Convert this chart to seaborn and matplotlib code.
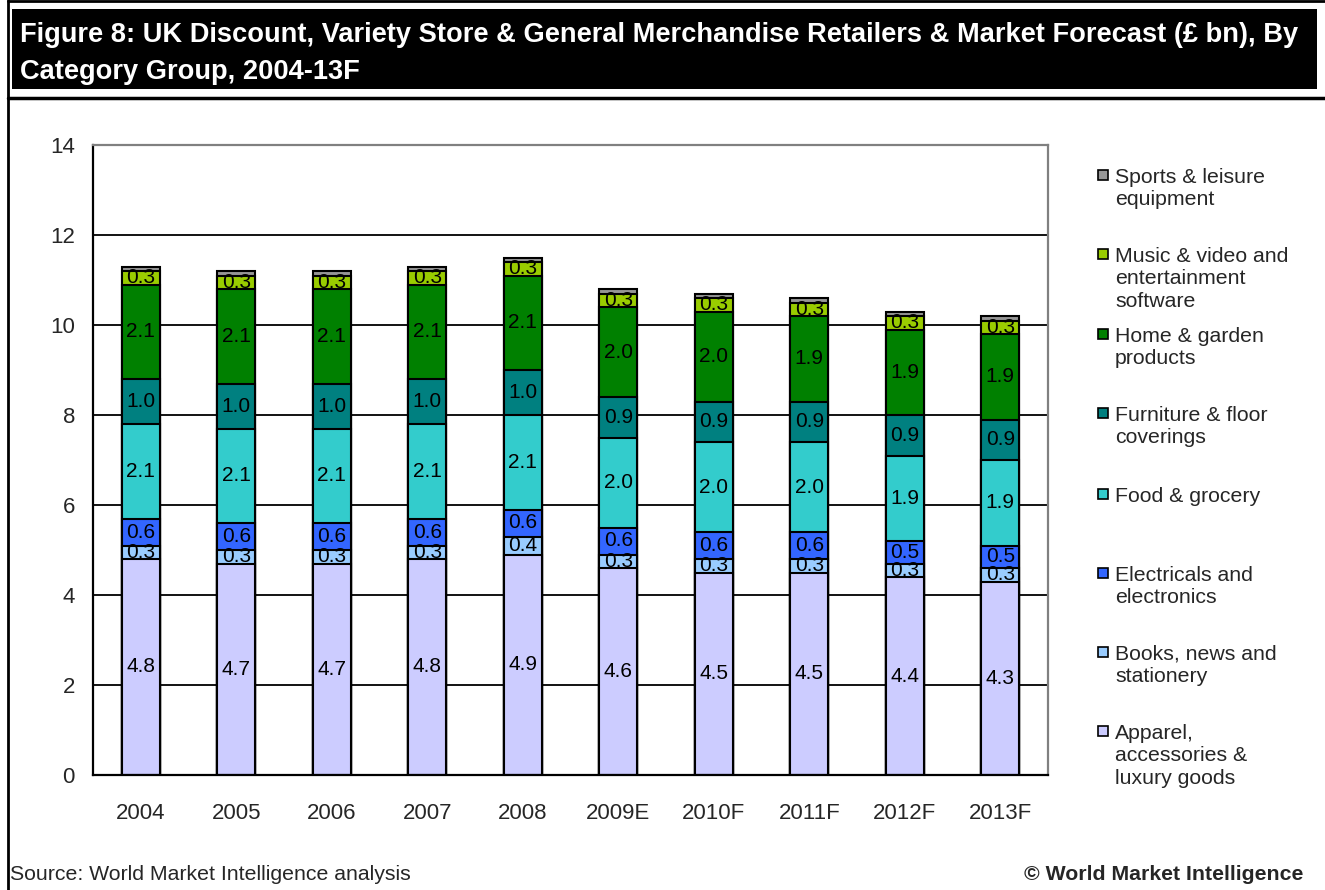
import numpy as np
import matplotlib
matplotlib.use("Agg")
import matplotlib.pyplot as plt
from matplotlib.patches import Rectangle
from matplotlib.lines import Line2D
import seaborn as sns
import pandas as pd

years = ["2004", "2005", "2006", "2007", "2008", "2009E", "2010F", "2011F", "2012F", "2013F"]

apparel = [4.8, 4.7, 4.7, 4.8, 4.9, 4.6, 4.5, 4.5, 4.4, 4.3]
books = [0.3, 0.3, 0.3, 0.3, 0.4, 0.3, 0.3, 0.3, 0.3, 0.3]
electricals = [0.6, 0.6, 0.6, 0.6, 0.6, 0.6, 0.6, 0.6, 0.5, 0.5]
food = [2.1, 2.1, 2.1, 2.1, 2.1, 2.0, 2.0, 2.0, 1.9, 1.9]
furniture = [1.0, 1.0, 1.0, 1.0, 1.0, 0.9, 0.9, 0.9, 0.9, 0.9]
home = [2.1, 2.1, 2.1, 2.1, 2.1, 2.0, 2.0, 1.9, 1.9, 1.9]
music = [0.3, 0.3, 0.3, 0.3, 0.3, 0.3, 0.3, 0.3, 0.3, 0.3]
sports = [0.1, 0.1, 0.1, 0.1, 0.1, 0.1, 0.1, 0.1, 0.1, 0.1]

series_names = [
    "Apparel,\naccessories &\nluxury goods",
    "Books, news and\nstationery",
    "Electricals and\nelectronics",
    "Food & grocery",
    "Furniture & floor\ncoverings",
    "Home & garden\nproducts",
    "Music & video and\nentertainment\nsoftware",
    "Sports & leisure\nequipment",
]
series_values = [apparel, books, electricals, food, furniture, home, music, sports]
series_colors = ["#CCCCFF", "#99CCFF", "#3366FF", "#33CCCC", "#008080", "#008000", "#99CC00", "#969696"]
show_label = [True, True, True, True, True, True, True, False]

sns.set_style("white")
plt.rcParams["font.family"] = ["Liberation Sans", "DejaVu Sans"]

W, H = 1325, 890
fig = plt.figure(figsize=(W / 100, H / 100), dpi=100)


def fx(px):
    return px / W


def fy(py):
    return 1 - py / H


ax = fig.add_axes([fx(93), fy(775), fx(1048) - fx(93), fy(145) - fy(775)])

vals = np.array(series_values)
cum = np.cumsum(vals, axis=0)

# Stack by drawing cumulative totals from the top layer down
for i in range(len(series_names) - 1, -1, -1):
    df = pd.DataFrame({"year": years, "value": cum[i]})
    sns.barplot(data=df, x="year", y="value", order=years, color=series_colors[i],
                saturation=1, width=0.4, edgecolor="black", linewidth=1.5,
                ax=ax, zorder=3)

# Segment value labels
for i in range(len(series_names)):
    if not show_label[i]:
        continue
    for j in range(len(years)):
        base = cum[i][j] - vals[i][j]
        ax.text(j, base + vals[i][j] / 2, f"{vals[i][j]:.1f}", ha="center", va="center",
                fontsize=15, color="black", zorder=5)

ax.set_ylim(0, 14)
ax.set_xlim(-0.5, len(years) - 0.5)
ax.set_yticks(np.arange(0, 15, 2))
ax.set_yticklabels([str(v) for v in range(0, 15, 2)], fontsize=16)
ax.set_xticks(range(len(years)))
ax.set_xticklabels(years, fontsize=16)
ax.set_xticks(np.arange(-0.5, len(years), 1), minor=True)
ax.tick_params(axis="x", which="major", length=0, pad=20)
ax.tick_params(axis="x", which="minor", length=5, width=1.2, color="black", direction="out")
ax.tick_params(axis="y", which="major", length=5, width=1.2, color="black", direction="out", pad=8)
ax.set_xlabel("")
ax.set_ylabel("")
for v in range(2, 14, 2):
    ax.axhline(v, color="black", lw=1.3, zorder=1)
ax.grid(False)
for side in ["left", "bottom"]:
    ax.spines[side].set_color("black")
    ax.spines[side].set_linewidth(1.6)
for side in ["top", "right"]:
    ax.spines[side].set_color("#808080")
    ax.spines[side].set_linewidth(1.6)
for s in ax.spines.values():
    s.set_zorder(6)

# Legend, top entry first
legend_y = [175, 254, 334, 413, 494, 573, 652, 731]
for k, i in enumerate(range(len(series_names) - 1, -1, -1)):
    cy = legend_y[k]
    fig.patches.append(Rectangle((fx(1098), fy(cy + 5)), 10 / W, 10 / H,
                                 transform=fig.transFigure, facecolor=series_colors[i],
                                 edgecolor="black", linewidth=1.2))
    fig.text(fx(1115), fy(cy - 7), series_names[i], ha="left", va="top",
             fontsize=15.3, linespacing=1.23)

# Frame and title block
fig.add_artist(Line2D([fx(8), fx(8)], [0, 1], transform=fig.transFigure, color="black", lw=2))
fig.add_artist(Line2D([fx(8), 1], [fy(1), fy(1)], transform=fig.transFigure, color="black", lw=2))
fig.add_artist(Line2D([fx(8), 1], [fy(98), fy(98)], transform=fig.transFigure, color="black", lw=2.5))
fig.patches.append(Rectangle((fx(12), fy(89)), fx(1317) - fx(12), fy(9) - fy(89),
                             transform=fig.transFigure, facecolor="black", edgecolor="none"))
fig.text(fx(20), fy(42), "Figure 8: UK Discount, Variety Store & General Merchandise Retailers & Market Forecast (£ bn), By",
         color="white", fontsize=19.6, fontweight="bold", ha="left", va="baseline")
fig.text(fx(20), fy(79), "Category Group, 2004-13F",
         color="white", fontsize=19.6, fontweight="bold", ha="left", va="baseline")

fig.text(fx(10), fy(880), "Source: World Market Intelligence analysis", fontsize=15.3,
         ha="left", va="baseline")
fig.text(fx(1303), fy(880), "© World Market Intelligence", fontsize=15.3, fontweight="bold",
         ha="right", va="baseline")

fig.savefig("out.png", dpi=100)
